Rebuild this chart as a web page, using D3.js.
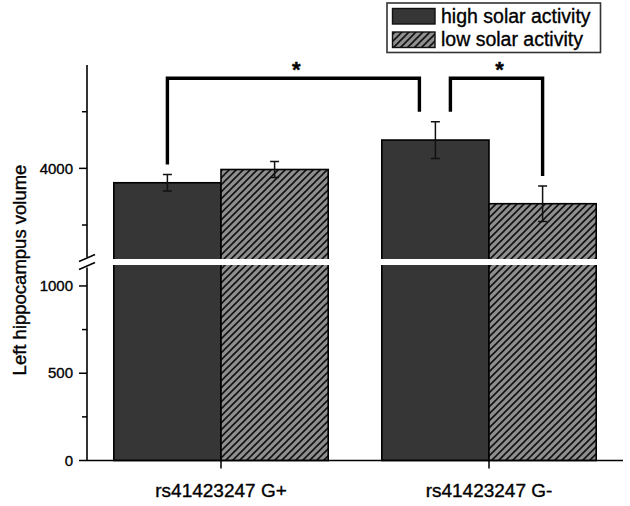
<!DOCTYPE html>
<html>
<head>
<meta charset="utf-8">
<script src="https://cdn.jsdelivr.net/npm/d3@7"></script>
<style>
  html, body { margin: 0; padding: 0; background: #fff; }
  svg { display: block; font-family: "Liberation Sans", Arial, sans-serif; }
  text { fill: #000; stroke: #000; stroke-width: 0.35px; }
</style>
</head>
<body>
<svg id="chart" width="630" height="506"></svg>
<script>
// ---- data ----
const groups = ["rs41423247 G+", "rs41423247 G-"];
const seriesNames = ["high solar activity", "low solar activity"];
const highValues = [3873, 4250];
const highErrors = [73, 162];
const lowValues = [3990, 3688];
const lowErrors = [70, 156];
const lowerTicks = [0, 500, 1000];
const lowerMinorTicks = [250, 750];
const upperTicks = [4000];
const upperMinorTicks = [3500, 4500];
const bracketLevel = 4795;          // data value of the bracket bar
const comparisons = [               // [group, series] pairs compared
  { a: [0, 0], b: [1, 0], label: "*" },
  { a: [1, 0], b: [1, 1], label: "*" }
];
const yTitle = "Left hippocampus volume";

// ---- layout ----
const svg = d3.select("#chart");
const axisX = 87, axisBottom = 460.5, axisRight = 623;

const x0 = d3.scaleBand().domain(groups).range([axisX, axisRight]).paddingInner(0.2).paddingOuter(0.1);
const x1 = d3.scaleBand().domain(seriesNames).range([0, x0.bandwidth()]);
const yLow = d3.scaleLinear().domain([0, 1120]).range([axisBottom, 265]);
const yUp = d3.scaleLinear().domain([3200, 4900]).range([259, 66.4]);
const yAny = v => v > 2000 ? yUp(v) : yLow(v);

const values = [highValues, lowValues];
const errors = [highErrors, lowErrors];

// hatch pattern
const defs = svg.append("defs");
const pat = defs.append("pattern").attr("id", "hatch").attr("patternUnits", "userSpaceOnUse")
  .attr("width", 7).attr("height", 7);
pat.append("rect").attr("width", 7).attr("height", 7).attr("fill", "#8e8e8e");
pat.append("path").attr("d", "M-1,1 l2,-2 M0,7 l7,-7 M6,8 l2,-2")
  .attr("stroke", "#111").attr("stroke-width", 1.6);

const fills = ["#363636", "url(#hatch)"];

// bars
const barData = [];
groups.forEach((g, gi) => seriesNames.forEach((s, si) => {
  barData.push({ g, gi, s, si, v: values[si][gi], e: errors[si][gi] });
}));

svg.append("g").selectAll("rect").data(barData).join("rect")
  .attr("x", d => x0(d.g) + x1(d.s))
  .attr("y", d => yAny(d.v))
  .attr("width", x1.bandwidth())
  .attr("height", d => axisBottom - yAny(d.v))
  .attr("fill", d => fills[d.si])
  .attr("stroke", "#000").attr("stroke-width", 1.6);

// white break stripe through bars
svg.append("g").selectAll("rect").data(groups).join("rect")
  .attr("x", d => x0(d) - 2).attr("width", x0.bandwidth() + 4)
  .attr("y", yUp(3200)).attr("height", yLow(1120) - yUp(3200))
  .attr("fill", "#fff");

// error bars
const eb = svg.append("g").attr("stroke", "#111").attr("stroke-width", 1.5).attr("fill", "none");
barData.forEach(d => {
  const cx = x0(d.g) + x1(d.s) + x1.bandwidth() / 2;
  const t = yAny(d.v + d.e), b = yAny(d.v - d.e);
  eb.append("path").attr("d", `M${cx},${t}V${b}M${cx - 4.5},${t}H${cx + 4.5}M${cx - 4.5},${b}H${cx + 4.5}`);
});

// y axis (upper)
const axUp = svg.append("g").attr("transform", `translate(${axisX},0)`);
axUp.append("line").attr("y1", yUp(4912)).attr("y2", yUp(3215)).attr("stroke", "#000").attr("stroke-width", 1.6);
axUp.selectAll(".maj").data(upperTicks).join("line")
  .attr("x1", -8).attr("x2", 0).attr("y1", d => yUp(d)).attr("y2", d => yUp(d))
  .attr("stroke", "#000").attr("stroke-width", 1.5);
axUp.selectAll(".min").data(upperMinorTicks).join("line")
  .attr("x1", -5).attr("x2", 0).attr("y1", d => yUp(d)).attr("y2", d => yUp(d))
  .attr("stroke", "#000").attr("stroke-width", 1.5);
axUp.selectAll("text").data(upperTicks).join("text")
  .attr("x", -14).attr("y", d => yUp(d)).attr("dy", "0.35em")
  .attr("text-anchor", "end").attr("font-size", 15).text(d => d);

// y axis (lower)
const axLo = svg.append("g").attr("transform", `translate(${axisX},0)`);
axLo.append("line").attr("y1", yLow(1105)).attr("y2", axisBottom).attr("stroke", "#000").attr("stroke-width", 1.6);
axLo.selectAll(".maj").data(lowerTicks).join("line")
  .attr("x1", -8).attr("x2", 0).attr("y1", d => yLow(d)).attr("y2", d => yLow(d))
  .attr("stroke", "#000").attr("stroke-width", 1.5);
axLo.selectAll(".min").data(lowerMinorTicks).join("line")
  .attr("x1", -5).attr("x2", 0).attr("y1", d => yLow(d)).attr("y2", d => yLow(d))
  .attr("stroke", "#000").attr("stroke-width", 1.5);
axLo.selectAll("text").data(lowerTicks).join("text")
  .attr("x", -14).attr("y", d => yLow(d)).attr("dy", "0.35em")
  .attr("text-anchor", "end").attr("font-size", 15).text(d => d);

// break marks
const brk = svg.append("g").attr("stroke", "#000").attr("stroke-width", 1.5);
const bMid = (yUp(3200) + yLow(1120)) / 2;
[-4, 4].forEach(o => {
  brk.append("line").attr("x1", axisX - 8).attr("y1", bMid + o + 3.5)
    .attr("x2", axisX + 8).attr("y2", bMid + o - 3.5);
});

// x axis
const axX = svg.append("g");
axX.append("line").attr("x1", axisX).attr("x2", axisRight).attr("y1", axisBottom).attr("y2", axisBottom)
  .attr("stroke", "#000").attr("stroke-width", 1.6);
axX.selectAll(".tk").data(groups).join("line")
  .attr("x1", d => x0(d) + x0.bandwidth() / 2).attr("x2", d => x0(d) + x0.bandwidth() / 2)
  .attr("y1", axisBottom).attr("y2", axisBottom + 8).attr("stroke", "#000").attr("stroke-width", 1.5);
axX.selectAll("text").data(groups).join("text")
  .attr("x", d => x0(d) + x0.bandwidth() / 2).attr("y", 496.5)
  .attr("text-anchor", "middle").attr("font-size", 19).text(d => d);

// y title
svg.append("text").attr("transform", "translate(19,270) rotate(-90)")
  .attr("text-anchor", "middle").attr("dominant-baseline", "central")
  .attr("font-size", 18.5).text(yTitle);

// significance brackets
const br = svg.append("g");
const barCenter = (gi, si) => x0(groups[gi]) + x1(seriesNames[si]) + x1.bandwidth() / 2;
const barTop = (gi, si) => yAny(values[si][gi] + errors[si][gi]) - 10;
comparisons.forEach((c, ci) => {
  let xa = barCenter(c.a[0], c.a[1]), xb = barCenter(c.b[0], c.b[1]);
  // shared bar: shift ends apart
  if (ci === 0) xb -= 16;
  if (ci === 1) xa += 15;
  const yl = yUp(bracketLevel);
  br.append("path")
    .attr("d", `M${xa},${barTop(c.a[0], c.a[1])}V${yl}H${xb}V${barTop(c.b[0], c.b[1])}`)
    .attr("fill", "none").attr("stroke", "#000").attr("stroke-width", 3.4);
  br.append("text").attr("x", (xa + xb) / 2 + 3).attr("y", yl - 1.5)
    .attr("text-anchor", "middle").attr("font-size", 22).attr("font-weight", "bold").text(c.label);
});

// legend
const lg = svg.append("g");
lg.append("rect").attr("x", 387).attr("y", 3).attr("width", 213.5).attr("height", 49.5)
  .attr("fill", "#fff").attr("stroke", "#333").attr("stroke-width", 1.6);
seriesNames.forEach((s, i) => {
  const yy = 8.5 + i * 23.5;
  lg.append("rect").attr("x", 392.5).attr("y", yy).attr("width", 42.5).attr("height", 15.5)
    .attr("fill", fills[i]).attr("stroke", "#111").attr("stroke-width", 1.4);
  lg.append("text").attr("x", 441).attr("y", yy + 14).attr("font-size", 19.5).text(s);
});
</script>
</body>
</html>
